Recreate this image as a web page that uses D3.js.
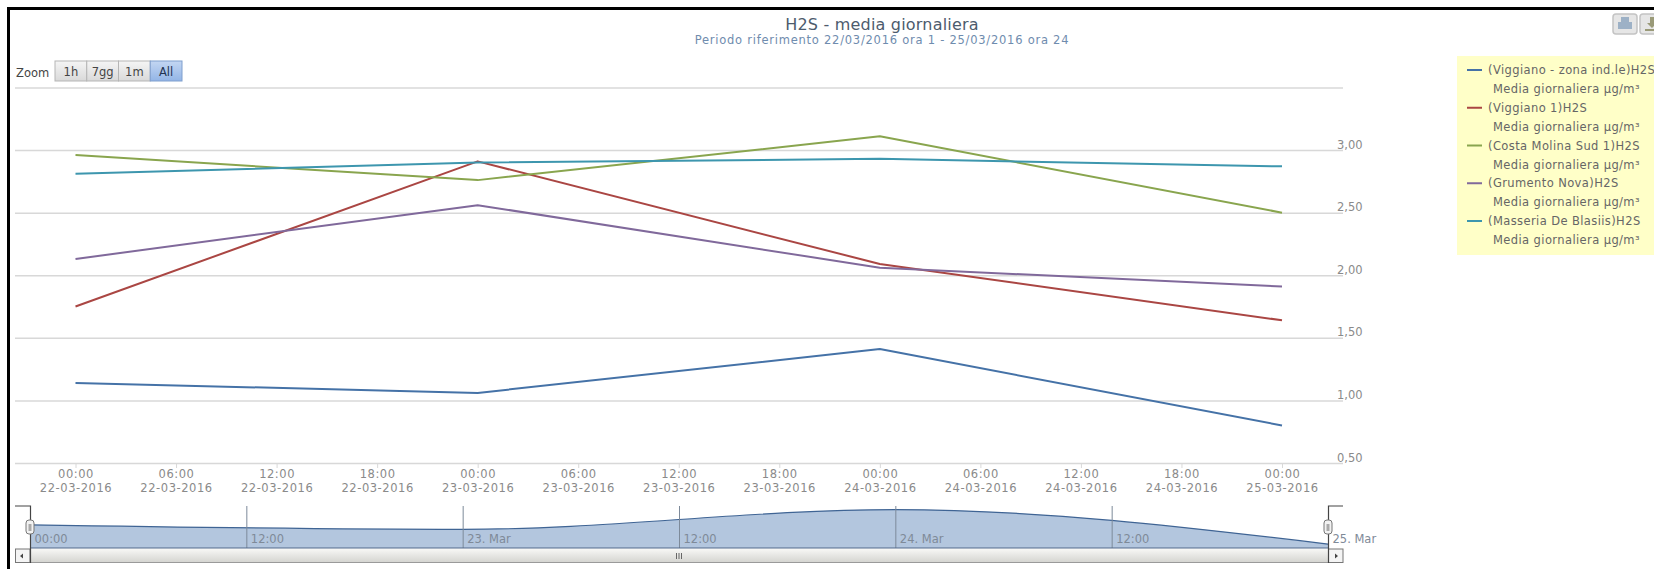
<!DOCTYPE html>
<html>
<head>
<meta charset="utf-8">
<title>H2S - media giornaliera</title>
<script src="https://cdn.jsdelivr.net/npm/d3@7/dist/d3.min.js"></script>
<style>
html,body{margin:0;padding:0;background:#fff;overflow:hidden}
svg{display:block}
svg text{font-family:"DejaVu Sans",sans-serif}
</style>
</head>
<body>
<svg id="chart" width="1654" height="569"></svg>
<script>
// Daily averages, one reading per station per day
const days = ["2016-03-22","2016-03-23","2016-03-24","2016-03-25"];
const stations = ["(Viggiano - zona ind.le)H2S","(Viggiano 1)H2S","(Costa Molina Sud 1)H2S","(Grumento Nova)H2S","(Masseria De Blasiis)H2S"];
const viggianoZona = [1.14,1.06,1.41,0.80];
const viggiano1 = [1.75,2.91,2.09,1.64];
const costaMolina = [2.96,2.76,3.11,2.50];
const grumento = [2.13,2.56,2.06,1.91];
const masseria = [2.81,2.90,2.93,2.87];
const seriesColors = ["#4572A7","#AA4643","#89A54E","#80699B","#3D96AE"];
const unitLabel = "Media giornaliera µg/m³";
const yTicks = [0.5,1,1.5,2,2.5,3,3.5];
const zoomButtons = ["1h","7gg","1m","All"];
const navLabels = ["00:00","12:00","23. Mar","12:00","24. Mar","12:00","25. Mar"];

const seriesValues = [viggianoZona,viggiano1,costaMolina,grumento,masseria];
const dates = days.map(d => new Date(d + "T00:00:00Z"));
const svg = d3.select("#chart");

// Gradients for the scrollbar and zoom buttons
const defs = svg.append("defs");
function gradient(id, top, bottom){
  const g = defs.append("linearGradient").attr("id",id).attr("x1",0).attr("x2",0).attr("y1",0).attr("y2",1);
  g.append("stop").attr("offset","0%").attr("stop-color",top);
  g.append("stop").attr("offset","100%").attr("stop-color",bottom);
}
gradient("barFill","#f7f7f5","#d4d4d0");
gradient("btnFill","#f5f5f5","#d9d9d9");
gradient("btnOn","#c3d6f2","#93b5e6");

// Page frame along the top and left edges
svg.append("path").attr("d","M8.5,569V8.5H1654").attr("fill","none").attr("stroke","#000").attr("stroke-width",3);

// Main plot scales
const x = d3.scaleUtc().domain([dates[0],dates[3]]).range([75.5,1282]);
const y = d3.scaleLinear().domain([0.5,3.5]).range([463,87.5]);

// Value axis: grid lines running the plot width, labels sitting above them on the right
const yAxis = d3.axisRight(y).tickValues(yTicks).tickSize(1328)
  .tickFormat(d => d === 3.5 ? "" : d3.format(".2f")(d).replace(".",","));
const yG = svg.append("g").attr("transform","translate(15,0)").call(yAxis);
yG.select(".domain").remove();
yG.selectAll("line").attr("stroke","#d8d8d8").attr("stroke-width",1.5);
yG.selectAll("text").attr("x",1322).attr("dy",-2).attr("text-anchor","start")
  .attr("fill","#8a8a8a").attr("font-size",11.5);

// Time axis: hour over date, every six hours
const xTicks = d3.utcHour.range(dates[0], d3.utcHour.offset(dates[3],1), 6);
const xAxis = d3.axisBottom(x).tickValues(xTicks).tickSize(5).tickFormat(d3.utcFormat("%H:%M"));
const xG = svg.append("g").attr("transform","translate(0,463)").call(xAxis);
xG.select(".domain").remove();
xG.selectAll("line").attr("stroke","#d8d8d8");
xG.selectAll("text").each(function(d){
  const t = d3.select(this).text("").attr("y",0).attr("dy",null)
    .attr("fill","#8a8a8a").attr("font-size",11.5).attr("letter-spacing",0.55);
  t.append("tspan").attr("x",0).attr("y",15).text(d3.utcFormat("%H:%M")(d));
  t.append("tspan").attr("x",0).attr("y",29).text(d3.utcFormat("%d-%m-%Y")(d));
});

// Station lines
const line = d3.line().x((d,i) => x(dates[i])).y(d => y(d));
svg.append("g").selectAll("path").data(seriesValues).join("path")
  .attr("d",line).attr("fill","none")
  .attr("stroke",(d,i) => seriesColors[i]).attr("stroke-width",2).attr("stroke-linejoin","round");

// Title block
svg.append("text").attr("x",882).attr("y",30).attr("text-anchor","middle")
  .attr("font-size",16).attr("letter-spacing",0.2).attr("fill","#4d5b6d").text("H2S - media giornaliera");
svg.append("text").attr("x",882).attr("y",44).attr("text-anchor","middle")
  .attr("font-size",11.5).attr("letter-spacing",0.75).attr("fill","#6f8cae").text("Periodo riferimento 22/03/2016 ora 1 - 25/03/2016 ora 24");

// Range selector
svg.append("text").attr("x",16).attr("y",77).attr("font-size",11.5).attr("fill","#444").text("Zoom");
const btnX = d3.scaleBand().domain(zoomButtons).range([55,182]);
const btn = svg.append("g").selectAll("g").data(zoomButtons).join("g")
  .attr("transform",d => `translate(${btnX(d)},61)`);
btn.append("rect").attr("width",btnX.bandwidth()).attr("height",20)
  .attr("fill",d => d === "All" ? "url(#btnOn)" : "url(#btnFill)")
  .attr("stroke",d => d === "All" ? "#7f9fce" : "#b5b5b5");
btn.append("text").attr("x",btnX.bandwidth()/2).attr("y",15).attr("text-anchor","middle")
  .attr("font-size",11.5).attr("fill",d => d === "All" ? "#1f3350" : "#444").text(d => d);

// Print and export buttons in the top right corner
const tools = svg.append("g").selectAll("g").data([1613,1640]).join("g").attr("transform",d => `translate(${d},14)`);
tools.append("rect").attr("width",24).attr("height",20).attr("rx",3)
  .attr("fill","#e6e6e6").attr("stroke","#c4c4c4").attr("stroke-width",1.5);
tools.filter((d,i) => i === 0).append("path").attr("d","M8,3h8v5h3v7h-14v-7h3z").attr("fill","#9db1c6");
tools.filter((d,i) => i === 1).append("path").attr("d","M10,3h4v6h3l-5,5l-5,-5h3zM5,15h14v2h-14z").attr("fill","#9a9a78");

// Legend panel
svg.append("rect").attr("x",1457).attr("y",56).attr("width",197).attr("height",199).attr("fill","#ffffc8");
const legendY = d3.scalePoint().domain(stations).range([70,221]);
const legend = svg.append("g").selectAll("g").data(stations).join("g")
  .attr("transform",d => `translate(0,${legendY(d)})`);
legend.append("line").attr("x1",1467).attr("x2",1482)
  .attr("stroke",(d,i) => seriesColors[i]).attr("stroke-width",2);
legend.append("text").attr("x",1488).attr("y",4).attr("font-size",11.5).attr("letter-spacing",0.4).attr("fill","#666").text(d => d);
legend.append("text").attr("x",1493).attr("y",23).attr("font-size",11.5).attr("letter-spacing",0.4).attr("fill","#666").text(unitLabel);

// Navigator: overview of the first station under the plot
const navTop = 506, navBottom = 548;
const navX = d3.scaleUtc().domain([dates[0],dates[3]]).range([30,1328]);
const navY = d3.scaleLinear().domain([0.73,1.41]).range([navBottom,509.6]);
const navTicks = d3.utcHour.range(dates[0], d3.utcHour.offset(dates[3],1), 12);
const navArea = d3.area().x((d,i) => navX(dates[i])).y0(navBottom).y1(d => navY(d)).curve(d3.curveMonotoneX);
const navLine = d3.line().x((d,i) => navX(dates[i])).y(d => navY(d)).curve(d3.curveMonotoneX);
svg.append("path").datum(viggianoZona).attr("d",navArea).attr("fill","#b3c6de");
svg.append("path").datum(viggianoZona).attr("d",navLine).attr("fill","none").attr("stroke","#3f6494").attr("stroke-width",1.2);

const navAxis = d3.axisBottom(navX).tickValues(navTicks).tickSize(navBottom-navTop)
  .tickFormat((d,i) => navLabels[i]);
const navG = svg.append("g").attr("transform",`translate(0,${navTop})`).call(navAxis);
navG.select(".domain").remove();
navG.selectAll("line").attr("stroke","#7d8a9a");
navG.selectAll("text").attr("y",37).attr("dy",0).attr("x",4).attr("text-anchor","start")
  .attr("font-size",11.5).attr("fill","#7f8a98");
svg.append("line").attr("x1",30).attr("x2",1328).attr("y1",navBottom).attr("y2",navBottom).attr("stroke","#51688a");

// Scrollbar with its end buttons and grip
svg.append("rect").attr("x",15).attr("y",549).attr("width",1328).attr("height",13.5).attr("fill","url(#barFill)");
svg.append("line").attr("x1",15).attr("x2",1343).attr("y1",562.5).attr("y2",562.5).attr("stroke","#9a9a9a");
svg.append("g").selectAll("rect").data([15.5,1328.5]).join("rect")
  .attr("x",d => d).attr("y",549).attr("width",14.5).attr("height",13.5)
  .attr("fill","#f4f4f4").attr("stroke","#777");
svg.append("path").attr("d","M20,556l3,-2.5v5zM1338,556l-3,-2.5v5z").attr("fill","#444");
svg.append("g").selectAll("line").data([-2.5,0,2.5]).join("line")
  .attr("x1",d => 679+d).attr("x2",d => 679+d).attr("y1",553).attr("y2",559).attr("stroke","#666");

// Range handles at both ends of the navigator
svg.append("path").attr("d",`M15,${navTop}H30.5V${navBottom+15}`).attr("fill","none").attr("stroke","#444").attr("stroke-width",1.2);
svg.append("path").attr("d",`M1343,${navTop}H1328.5V${navBottom+15}`).attr("fill","none").attr("stroke","#444").attr("stroke-width",1.2);
const handles = svg.append("g").selectAll("g").data([30,1328]).join("g").attr("transform",d => `translate(${d},520)`);
handles.append("rect").attr("x",-4).attr("width",8).attr("height",14).attr("rx",3).attr("fill","#f2f2f2").attr("stroke","#777");
handles.append("rect").attr("x",-1.5).attr("y",4).attr("width",3).attr("height",7).attr("fill","#aaa");
</script>
</body>
</html>
